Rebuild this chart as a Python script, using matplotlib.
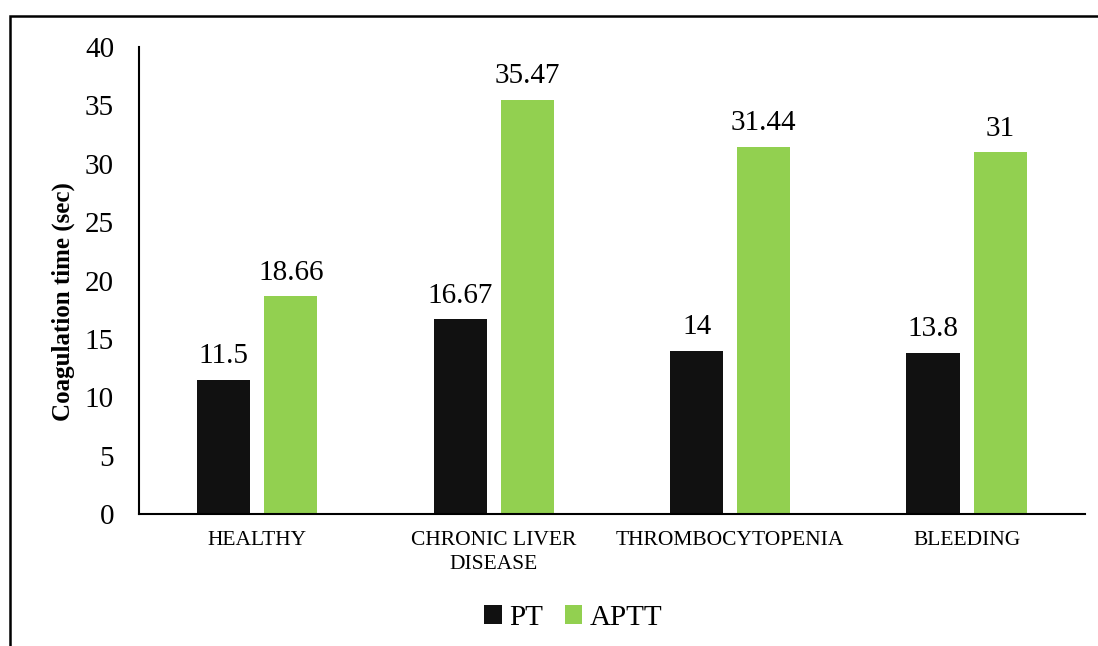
import matplotlib.pyplot as plt
from matplotlib.patches import Rectangle
import numpy as np

plt.rcParams['font.family'] = ['Liberation Serif', 'DejaVu Serif']

# Mean coagulation times per group
categories = ['HEALTHY', 'CHRONIC LIVER\nDISEASE', 'THROMBOCYTOPENIA', 'BLEEDING']
pt_values = [11.5, 16.67, 14, 13.8]
aptt_values = [18.66, 35.47, 31.44, 31]
pt_labels = ['11.5', '16.67', '14', '13.8']
aptt_labels = ['18.66', '35.47', '31.44', '31']

fig = plt.figure(figsize=(10.98, 6.46), dpi=100)
ax = fig.add_axes([0.1266, 0.2043, 0.8614, 0.7229])

x = np.arange(len(categories))
w = 0.225
off = 0.142
b1 = ax.bar(x - off, pt_values, w, color='#111111', label='PT')
b2 = ax.bar(x + off, aptt_values, w, color='#92D050', label='APTT')

for bars, labels in ((b1, pt_labels), (b2, aptt_labels)):
    for bar, lab in zip(bars, labels):
        ax.text(bar.get_x() + bar.get_width() / 2, bar.get_height() + 0.9, lab,
                ha='center', va='bottom', fontsize=21)

ax.set_xlim(-0.5, 3.5)
ax.set_ylim(0, 40)
ax.set_yticks(range(0, 41, 5))
ax.set_xticks(x)
ax.set_xticklabels(categories, fontsize=15.5, linespacing=1.35)
ax.tick_params(axis='y', length=0, labelsize=21, pad=18)
ax.tick_params(axis='x', length=0, pad=12)
for side in ('top', 'right'):
    ax.spines[side].set_visible(False)
for side in ('left', 'bottom'):
    ax.spines[side].set_linewidth(1.5)

ax.set_ylabel('Coagulation time (sec)', fontsize=18, fontweight='bold')
ax.yaxis.set_label_coords(-0.068, 0.455)

ax.legend(loc='center', bbox_to_anchor=(0.459, -0.222), ncol=2, frameon=False,
          fontsize=21, handlelength=0.6, handleheight=0.65, handletextpad=0.25,
          columnspacing=0.75)

# outer border around the chart
fig.patches.append(Rectangle((10 / 1098, -0.1), 1.2, 1 - 16 / 646 + 0.1,
                             transform=fig.transFigure, fill=False,
                             edgecolor='black', linewidth=1.8))

fig.savefig('out.png', dpi=100)
